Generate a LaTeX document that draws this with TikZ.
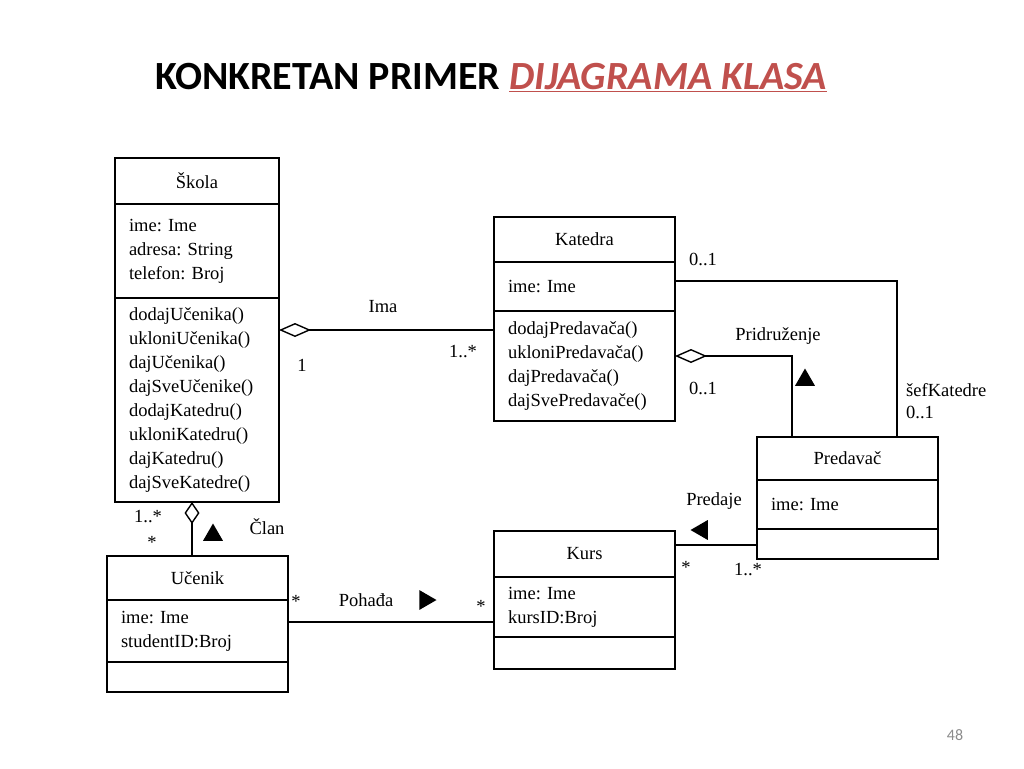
\documentclass[tikz,border=0pt]{standalone}
\usepackage{fontspec}
\setmainfont{Liberation Serif}
\newfontfamily\slidefont{Carlito}
\usetikzlibrary{arrows.meta,positioning,calc,shapes.geometric}
\definecolor{titlered}{HTML}{C0504D}
\definecolor{pagegray}{HTML}{8C8C8C}
\frenchspacing
\tikzset{
  clshead/.style={draw=black, line width=1.4pt, outer sep=0pt, inner sep=0pt, minimum width=181pt, align=center},
  clsbody/.style={draw=black, line width=1.4pt, outer sep=0pt, inner xsep=14pt, inner ysep=0pt, text width=153pt, align=left},
  assoc/.style={line width=1.4pt},
  aggr/.style={line width=1.4pt, {Diamond[open,length=32pt,width=14pt,line width=1.4pt]}-},
  aggrv/.style={line width=1.4pt, {Diamond[open,length=22pt,width=15pt,line width=1.4pt]}-},
  lbl/.style={inner sep=1pt},
  dirtri/.style={regular polygon, regular polygon sides=3, fill=black, inner sep=0pt, minimum size=23pt}
}

\begin{document}
\begin{tikzpicture}[x=1pt, y=-1pt, font=\fontsize{18.5}{24}\selectfont]
  \useasboundingbox (0,0) rectangle (1024,768);
  % title and page number
  \node[font=\slidefont\bfseries\fontsize{40}{46}\selectfont] (title) at (491,78)
    {KONKRETAN PRIMER \textcolor{titlered}{\itshape\underline{DIJAGRAMA KLASA}}};
  \node[font=\slidefont\fontsize{16}{18}\selectfont, text=pagegray] (pagenum) at (955,735) {48};

  % classes
  \node[clshead, minimum width=164pt, minimum height=46pt, anchor=north west] (skola) at (115,158) {Škola};
  \node[clsbody, text width=136pt, minimum height=94pt, below=0pt of skola] (skolaattr) {ime: Ime\\adresa: String\\telefon: Broj};
  \node[clsbody, text width=136pt, minimum height=204pt, below=0pt of skolaattr] (skolaops)
    {dodajUčenika()\\ukloniUčenika()\\dajUčenika()\\dajSveUčenike()\\dodajKatedru()\\ukloniKatedru()\\dajKatedru()\\dajSveKatedre()};

  \node[clshead, minimum height=45pt, anchor=north west] (katedra) at (494,217) {Katedra};
  \node[clsbody, minimum height=49pt, below=0pt of katedra] (katattr) {ime: Ime};
  \node[clsbody, minimum height=110pt, below=0pt of katattr] (katops)
    {dodajPredavača()\\ukloniPredavača()\\dajPredavača()\\dajSvePredavače()};

  \node[clshead, minimum height=43pt, anchor=north west] (predavac) at (757,437) {Predavač};
  \node[clsbody, minimum height=49pt, below=0pt of predavac] (predattr) {ime: Ime};
  \node[clsbody, minimum height=30pt, below=0pt of predattr] (predops) {};

  \node[clshead, minimum height=46pt, anchor=north west] (kurs) at (494,531) {Kurs};
  \node[clsbody, minimum height=60pt, below=0pt of kurs] (kursattr) {ime: Ime\\kursID:Broj};
  \node[clsbody, minimum height=32pt, below=0pt of kursattr] (kursops) {};

  \node[clshead, minimum height=44pt, anchor=north west] (ucenik) at (107,556) {Učenik};
  \node[clsbody, minimum height=62pt, below=0pt of ucenik] (ucenikattr) {ime: Ime\\studentID:Broj};
  \node[clsbody, minimum height=30pt, below=0pt of ucenikattr] (ucenikops) {};

  % connector end points
  \coordinate (imaL) at ($(skolaops.north east)+(0,32)$);
  \coordinate (sefL) at ($(katattr.north east)+(0,19)$);
  \coordinate (sefB) at ($(predavac.north east)+(-41,0)$);
  \coordinate (pridL) at ($(katops.north east)+(0,45)$);
  \coordinate (pridB) at ($(predavac.north west)+(35,0)$);
  \coordinate (predajeL) at ($(kurs.north east)+(0,14)$);
  \coordinate (clanT) at ($(skolaops.south west)+(77,0)$);
  \coordinate (pohadjaL) at ($(ucenikattr.north east)+(0,22)$);

  % connectors
  \draw[aggr] (imaL) -- (imaL -| katops.west);
  \draw[assoc] (sefL) -| (sefB);
  \draw[aggr] (pridL) -| (pridB);
  \draw[assoc] (predajeL) -- (predajeL -| predops.west);
  \draw[aggrv] (clanT) -- (clanT |- ucenik.north);
  \draw[assoc] (pohadjaL) -- (pohadjaL -| kursattr.west);

  % labels
  \node[lbl] (imalbl) at (383,307) {Ima};
  \node[lbl] (imamult1) at (302,365) {1};
  \node[lbl] (imamult2) at (463,352) {1..*};
  \node[lbl] (sefmult1) at (703,259) {0..1};
  \node[lbl, anchor=west] (seflbl) at (905,390) {šefKatedre};
  \node[lbl, anchor=west] (sefmult2) at (905,412) {0..1};
  \node[lbl] (pridlbl) at (778,336) {Pridruženje};
  \node[lbl] (pridmult) at (703,388) {0..1};
  \node[dirtri] (pridtri) at (805,380) {};
  \node[lbl] (predajelbl) at (714,501) {Predaje};
  \node[dirtri, rotate=90] (predajetri) at (702,530) {};
  \node[lbl] (predajemult1) at (686,567) {*};
  \node[lbl] (predajemult2) at (748,570) {1..*};
  \node[lbl] (clanmult1) at (148,517) {1..*};
  \node[lbl] (clanmult2) at (152,542) {*};
  \node[lbl] (clanlbl) at (267,527) {Član};
  \node[dirtri] (clantri) at (213,535) {};
  \node[lbl] (pohmult1) at (296,601) {*};
  \node[lbl] (pohlbl) at (366,600) {Pohađa};
  \node[dirtri, rotate=-90] (pohtri) at (425,600) {};
  \node[lbl] (pohmult2) at (481,606) {*};
\end{tikzpicture}
\end{document}
